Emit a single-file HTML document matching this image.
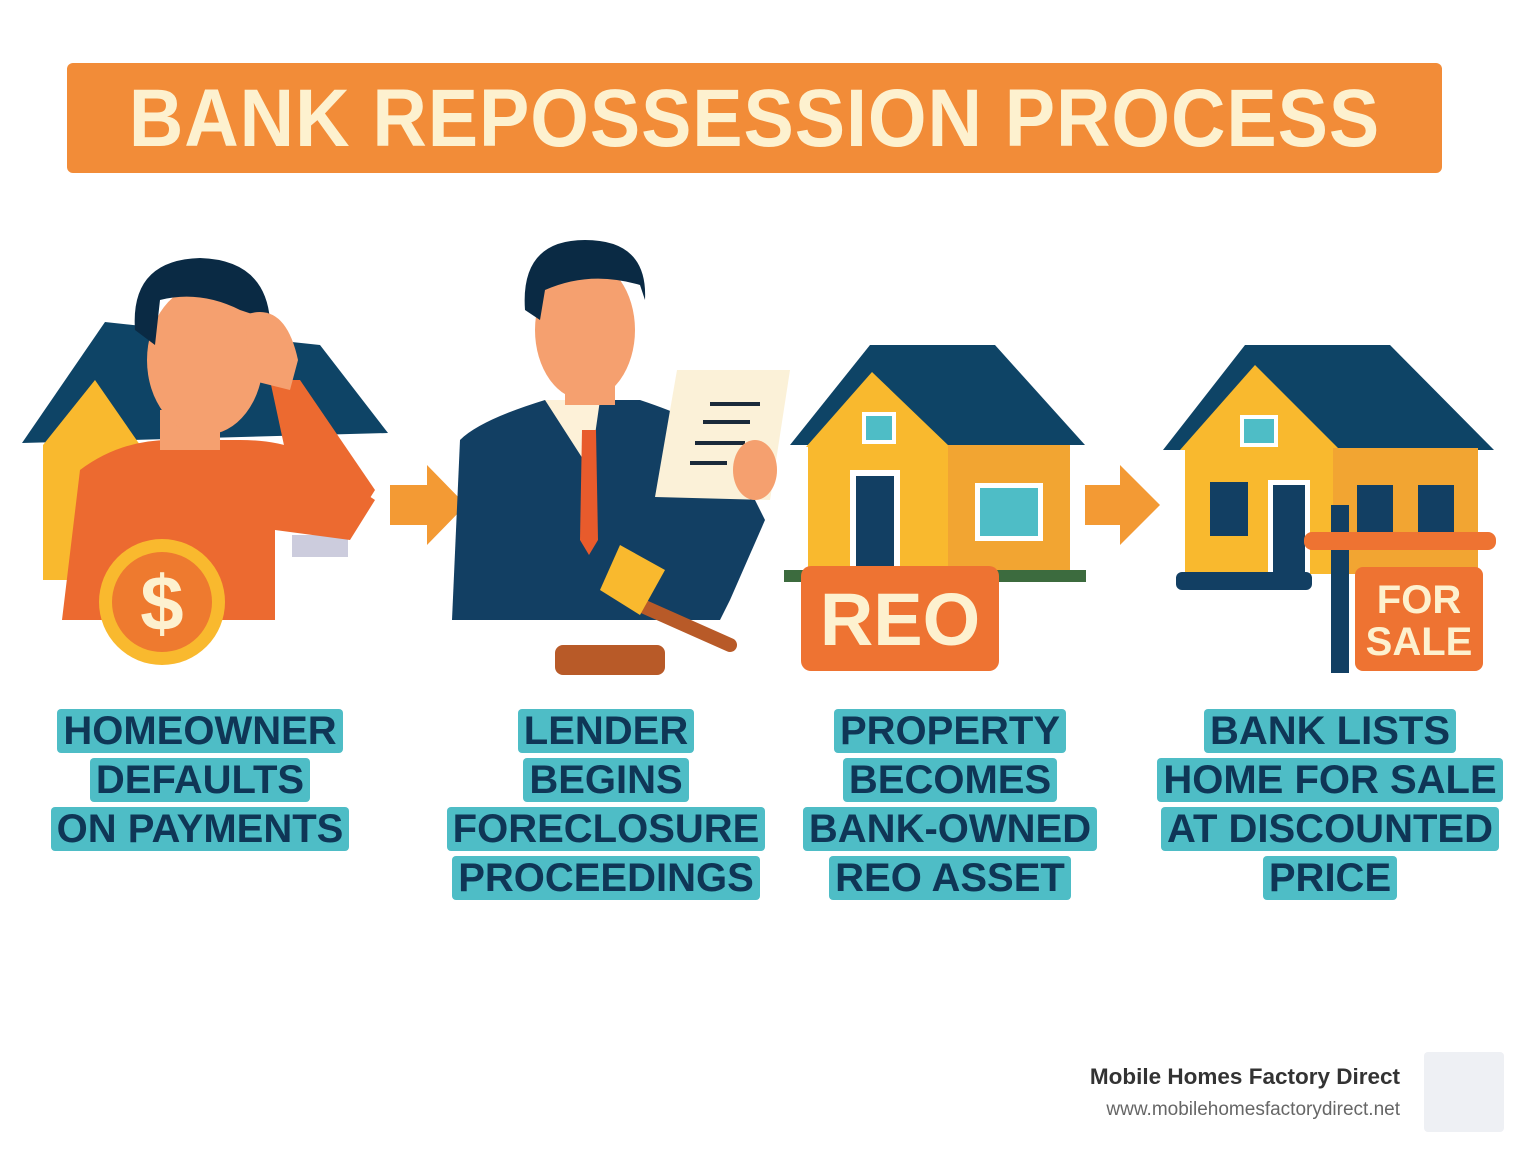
<!DOCTYPE html>
<html><head><meta charset="utf-8"><style>
html,body{margin:0;padding:0;background:#fff;}
body{width:1536px;height:1154px;position:relative;overflow:hidden;font-family:"Liberation Sans",sans-serif;}
.banner{position:absolute;left:67px;top:63px;width:1375px;height:110px;background:#F28C38;border-radius:6px;}
.banner span{position:absolute;left:0;right:0;top:15px;text-align:center;font-weight:bold;font-size:82px;color:#FDF1CF;letter-spacing:1px;line-height:82px;transform:scaleX(0.92);}
.lbl{position:absolute;text-align:center;font-weight:bold;font-size:40px;line-height:49px;color:#0F3656;}
.lbl span{background:#4EBDC6;padding:0 6px;box-decoration-break:clone;-webkit-box-decoration-break:clone;border-radius:4px;}
.foot1{position:absolute;right:136px;top:1064px;font-weight:bold;font-size:22.5px;color:#333;}
.foot2{position:absolute;right:136px;top:1099px;font-size:19px;color:#666;}
.logo{position:absolute;left:1424px;top:1052px;width:80px;height:80px;background:#EEF0F4;border-radius:4px;}
</style></head><body>
<div class="banner"><span>BANK REPOSSESSION PROCESS</span></div>
<svg width="1536" height="700" style="position:absolute;left:0;top:0">
<polygon points="22,443 105,322 320,345 388,433" fill="#0E4466"/>
<polygon points="43,445 95,380 140,445 140,580 43,580" fill="#F9B92E"/>
<rect x="292" y="535" width="56" height="22" fill="#ccd"/>
<path d="M62,620 L80,470 Q120,440 170,440 L240,440 Q300,440 330,470 L375,500 L350,540 L275,530 L275,620 Z" fill="#EC6A30"/>
<path d="M270,380 L300,380 L375,490 L350,530 L300,520 Z" fill="#EC6A30"/>
<rect x="160" y="410" width="60" height="40" fill="#F5A06F"/>
<ellipse cx="205" cy="360" rx="58" ry="75" fill="#F5A06F"/>
<path d="M135,330 Q130,260 200,258 Q265,260 270,320 L240,310 Q200,290 160,300 L155,345 Z" fill="#0A2A44"/>
<path d="M245,315 Q285,300 298,360 L290,390 L250,380 Z" fill="#F5A06F"/>
<circle cx="162" cy="602" r="63" fill="#F9B92E"/>
<circle cx="162" cy="602" r="50" fill="#EE7A2F"/>
<text x="162" y="630" text-anchor="middle" font-family="Liberation Sans" font-weight="bold" font-size="78" fill="#FDF1CF">$</text>
<polygon points="390,485 427,485 427,465 466,505 427,545 427,525 390,525" fill="#F39A34"/>
<polygon points="1085,485 1120,485 1120,465 1160,505 1120,545 1120,525 1085,525" fill="#F39A34"/>
<path d="M452,620 L460,440 Q480,420 545,400 L640,400 Q700,420 725,440 L765,520 L730,600 L720,620 Z" fill="#123F63"/>
<polygon points="545,400 600,400 590,470" fill="#FDF1D8"/>
<polygon points="582,430 596,430 598,540 589,555 580,540" fill="#E85B2C"/>
<rect x="565" y="360" width="50" height="45" fill="#F5A06F"/>
<ellipse cx="585" cy="330" rx="50" ry="70" fill="#F5A06F"/>
<path d="M525,310 Q520,240 585,240 Q648,240 645,300 L640,285 Q590,270 545,290 L540,320 Z" fill="#0A2A44"/>
<polygon points="677,370 790,370 770,500 655,497" fill="#FBF1D8"/>
<g stroke="#1a2a3a" stroke-width="4"><line x1="710" y1="404" x2="760" y2="404"/><line x1="703" y1="422" x2="750" y2="422"/><line x1="695" y1="443" x2="745" y2="443"/><line x1="690" y1="463" x2="727" y2="463"/></g>
<ellipse cx="755" cy="470" rx="22" ry="30" fill="#F5A06F"/>
<rect x="555" y="645" width="110" height="30" rx="8" fill="#B85A28"/>
<line x1="640" y1="605" x2="730" y2="645" stroke="#B85A28" stroke-width="14" stroke-linecap="round"/>
<polygon points="620,545 665,570 640,615 600,590" fill="#F9B92E"/>
<polygon points="790,445 870,345 995,345 1085,445" fill="#0E4466"/>
<rect x="808" y="445" width="142" height="133" fill="#F9B92E"/>
<polygon points="806,447 872,372 950,447" fill="#F9B92E"/>
<rect x="948" y="445" width="122" height="133" fill="#F2A532"/>
<rect x="862" y="412" width="34" height="32" fill="#fff"/><rect x="866" y="416" width="26" height="24" fill="#4EBDC6"/>
<rect x="850" y="470" width="50" height="108" fill="#fff"/><rect x="856" y="476" width="38" height="102" fill="#123F63"/>
<rect x="975" y="483" width="68" height="58" fill="#fff"/><rect x="980" y="488" width="58" height="48" fill="#4EBDC6"/>
<rect x="784" y="570" width="302" height="12" fill="#3C6B3E"/>
<rect x="801" y="566" width="198" height="105" rx="10" fill="#EE7332"/>
<text x="900" y="645" text-anchor="middle" font-family="Liberation Sans" font-weight="bold" font-size="74" fill="#FDF1CF">REO</text>
<polygon points="1163,450 1245,345 1390,345 1494,450" fill="#0E4466"/>
<rect x="1185" y="448" width="150" height="126" fill="#F9B92E"/>
<polygon points="1180,450 1255,365 1340,450" fill="#F9B92E"/>
<rect x="1333" y="448" width="145" height="126" fill="#F2A532"/>
<rect x="1240" y="415" width="38" height="32" fill="#fff"/><rect x="1244" y="419" width="30" height="24" fill="#4EBDC6"/>
<rect x="1210" y="482" width="38" height="54" fill="#123F63"/>
<rect x="1268" y="480" width="42" height="94" fill="#fff"/><rect x="1273" y="485" width="32" height="89" fill="#123F63"/>
<rect x="1357" y="485" width="36" height="48" fill="#123F63"/><rect x="1418" y="485" width="36" height="48" fill="#123F63"/>
<rect x="1176" y="572" width="136" height="18" rx="6" fill="#123F63"/>
<rect x="1331" y="505" width="18" height="168" fill="#123F63"/>
<rect x="1304" y="532" width="192" height="18" rx="8" fill="#EE7332"/>
<rect x="1355" y="567" width="128" height="104" rx="8" fill="#EE7332"/>
<text x="1419" y="613" text-anchor="middle" font-family="Liberation Sans" font-weight="bold" font-size="40" fill="#FDF1CF">FOR</text>
<text x="1419" y="655" text-anchor="middle" font-family="Liberation Sans" font-weight="bold" font-size="40" fill="#FDF1CF">SALE</text>
</svg>
<div class="lbl" style="left:0;width:400px;top:707px"><span>HOMEOWNER</span><br><span>DEFAULTS</span><br><span>ON PAYMENTS</span></div>
<div class="lbl" style="left:406px;width:400px;top:707px"><span>LENDER</span><br><span>BEGINS</span><br><span>FORECLOSURE</span><br><span>PROCEEDINGS</span></div>
<div class="lbl" style="left:750px;width:400px;top:707px"><span>PROPERTY</span><br><span>BECOMES</span><br><span>BANK-OWNED</span><br><span>REO ASSET</span></div>
<div class="lbl" style="left:1130px;width:400px;top:707px"><span>BANK LISTS</span><br><span>HOME FOR SALE</span><br><span>AT DISCOUNTED</span><br><span>PRICE</span></div>
<div class="foot1">Mobile Homes Factory Direct</div>
<div class="foot2">www.mobilehomesfactorydirect.net</div>
<div class="logo"></div>
</body></html>
